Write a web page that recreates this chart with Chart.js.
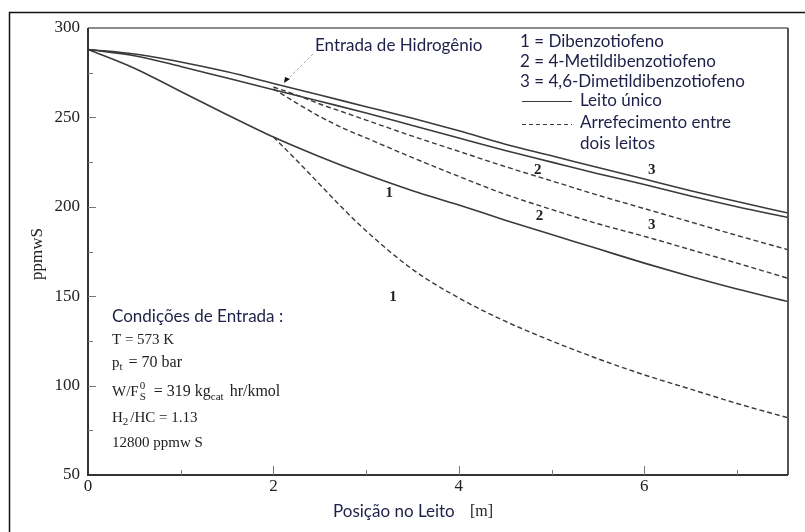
<!DOCTYPE html>
<html>
<head>
<meta charset="utf-8">
<script src="https://cdn.jsdelivr.net/npm/chart.js@4.4.1/dist/chart.umd.min.js"></script>
<style>
  html, body { margin: 0; padding: 0; background: #fff; }
  canvas { display: block; }
</style>
</head>
<body>
<canvas id="myChart" width="805" height="532"></canvas>
<script>
// posição no leito [m] e concentrações [ppmw S]
const posLeito = [0, 0.5, 1, 1.5, 2, 2.5, 3, 3.5, 4, 4.5, 5, 5.5, 6, 6.5, 7, 7.55];
const leitoUnico1 = [288, 277.5, 264.5, 251.5, 239, 228, 218, 209, 201, 192.5, 184.5, 176.5, 168.5, 161, 154, 147];
const leitoUnico2 = [288, 284.5, 278.5, 272, 265.5, 259, 252.5, 245.5, 238.5, 231.5, 225, 218.5, 212.5, 206, 200, 194];
const leitoUnico3 = [288, 285.5, 281, 275.5, 269, 262.5, 256, 249.5, 242.5, 235, 228.5, 222, 215.5, 209, 203, 196.5];

const posArref = [2, 2.25, 2.5, 2.75, 3, 3.5, 4, 4.5, 5, 5.5, 6, 6.5, 7, 7.55];
const arref1 = [239, 226, 212.5, 199, 186.5, 165, 149, 136, 125, 115, 106, 98, 90, 82];
const arref2 = [266, 258, 250.5, 244, 238.5, 227.5, 217, 207, 198.5, 190.5, 183.5, 176, 168.5, 160];
const arref3 = [267, 262.5, 257.5, 253, 248.5, 239.5, 231, 222.5, 214.5, 206.5, 199, 191.5, 184, 176];

const xTicks = [0, 2, 4, 6];
const xMinor = [1, 3, 5, 7];
const yTicks = [50, 100, 150, 200, 250, 300];
const yMinor = [75, 125, 175, 225, 275];

const lineColor = '#3a3a3a';
const sans = 'Lato, "Noto Sans", sans-serif';
const serif = '"Liberation Serif", "DejaVu Serif", serif';
const navy = '#1e2048';

function toPoints(xs, ys) {
    return xs.map((v, i) => ({ x: v, y: ys[i] }));
}

function solid(label, xs, ys) {
    return { label: label, data: toPoints(xs, ys), borderColor: lineColor, borderWidth: 1.6,
        pointRadius: 0, cubicInterpolationMode: 'monotone', fill: false };
}

function dashed(label, xs, ys) {
    let d = solid(label, xs, ys);
    d.borderDash = [5, 3];
    d.borderWidth = 1.4;
    return d;
}

// pedaços de texto um após o outro, alguns subidos ou descidos
function drawRich(ctx, parts, x, y) {
    parts.forEach((p) => {
        ctx.font = (p.size || 15) + 'px ' + serif;
        ctx.fillText(p.t, x, y + (p.dy || 0));
        if (!p.over) x += ctx.measureText(p.t).width + (p.gap || 0);
    });
}

const extras = {
    id: 'extras',
    afterDraw(chart) {
        const ctx = chart.ctx;
        const xs = chart.scales.x, ys = chart.scales.y;
        const a = chart.chartArea;
        ctx.save();

        // moldura externa
        ctx.strokeStyle = '#111';
        ctx.lineWidth = 1.5;
        ctx.beginPath();
        ctx.moveTo(9.5, 532); ctx.lineTo(9.5, 12.5); ctx.lineTo(805, 12.5);
        ctx.stroke();

        // caixa do gráfico
        ctx.strokeStyle = '#666';
        ctx.lineWidth = 1.5;
        ctx.beginPath(); ctx.moveTo(a.left, a.top); ctx.lineTo(a.right, a.top); ctx.stroke();
        ctx.strokeStyle = '#555';
        ctx.lineWidth = 2;
        ctx.beginPath(); ctx.moveTo(a.right, a.top); ctx.lineTo(a.right, a.bottom); ctx.stroke();
        ctx.strokeStyle = '#333';
        ctx.beginPath(); ctx.moveTo(a.left, a.top); ctx.lineTo(a.left, a.bottom); ctx.lineTo(a.right, a.bottom); ctx.stroke();

        // marcas para dentro
        ctx.strokeStyle = '#777';
        ctx.lineWidth = 1;
        xTicks.concat(xMinor).forEach((v) => {
            if (v === 0) return;
            const px = Math.round(xs.getPixelForValue(v)) + 0.5;
            const len = xTicks.includes(v) ? 9 : 5;
            ctx.beginPath(); ctx.moveTo(px, a.bottom); ctx.lineTo(px, a.bottom - len); ctx.stroke();
        });
        yTicks.concat(yMinor).forEach((v) => {
            if (v === 50 || v === 300) return;
            const py = Math.round(ys.getPixelForValue(v)) + 0.5;
            const len = yTicks.includes(v) ? 8 : 5;
            ctx.beginPath(); ctx.moveTo(a.left, py); ctx.lineTo(a.left + len, py); ctx.stroke();
        });

        // rótulos das curvas
        ctx.fillStyle = '#222';
        ctx.textBaseline = 'middle';
        ctx.textAlign = 'center';
        ctx.font = 'bold 15px ' + serif;
        [['1', 3.25, 207.5], ['1', 3.29, 149.5], ['2', 4.85, 220.5], ['3', 6.08, 220.5],
         ['2', 4.87, 195], ['3', 6.08, 190]].forEach((l) => {
            ctx.fillText(l[0], xs.getPixelForValue(l[1]), ys.getPixelForValue(l[2]));
        });

        // título do eixo y
        ctx.save();
        ctx.translate(38, 254);
        ctx.rotate(-Math.PI / 2);
        ctx.font = '17px ' + serif;
        ctx.fillText('ppmwS', 0, 0);
        ctx.restore();

        // título do eixo x
        ctx.textAlign = 'left';
        ctx.fillStyle = navy;
        ctx.font = '17px ' + sans;
        ctx.fillText('Posição no Leito', 333, 512);
        ctx.fillStyle = '#222';
        ctx.font = '16px ' + serif;
        ctx.fillText('[m]', 470, 512);

        // entrada de hidrogênio
        ctx.fillStyle = navy;
        ctx.font = '17px ' + sans;
        ctx.fillText('Entrada de Hidrogênio', 315, 46);
        ctx.strokeStyle = '#aaa';
        ctx.lineWidth = 1;
        ctx.setLineDash([3, 2]);
        ctx.beginPath(); ctx.moveTo(313, 54); ctx.lineTo(290, 77); ctx.stroke();
        ctx.setLineDash([]);
        ctx.fillStyle = '#111';
        ctx.beginPath(); ctx.moveTo(284, 83); ctx.lineTo(285, 77); ctx.lineTo(290, 79); ctx.closePath(); ctx.fill();

        // legenda
        ctx.fillStyle = navy;
        ctx.font = '17px ' + sans;
        ctx.fillText('1 = Dibenzotiofeno', 520, 42);
        ctx.fillText('2 = 4-Metildibenzotiofeno', 520, 62);
        ctx.fillText('3 = 4,6-Dimetildibenzotiofeno', 520, 82);
        ctx.fillText('Leito único', 580, 101);
        ctx.fillText('Arrefecimento entre', 580, 123);
        ctx.fillText('dois leitos', 580, 144);
        ctx.strokeStyle = lineColor;
        ctx.lineWidth = 1.2;
        ctx.beginPath(); ctx.moveTo(522, 101.5); ctx.lineTo(572, 101.5); ctx.stroke();
        ctx.setLineDash([4, 3]);
        ctx.beginPath(); ctx.moveTo(522, 124.5); ctx.lineTo(572, 124.5); ctx.stroke();
        ctx.setLineDash([]);

        // condições de entrada
        ctx.fillText('Condições de Entrada :', 112, 317);
        ctx.fillStyle = '#222';
        drawRich(ctx, [{ t: 'T = 573 K' }], 112, 340);
        drawRich(ctx, [{ t: 'p' }, { t: 't', size: 11, dy: 4, gap: 6 }, { t: '= 70 bar', size: 16 }], 112, 363);
        drawRich(ctx, [{ t: 'W/F', gap: 1 }, { t: '0', size: 11, dy: -6, over: true },
            { t: 'S', size: 11, dy: 5, gap: 8 }, { t: '= 319 kg', size: 16 },
            { t: 'cat', size: 11, dy: 5, gap: 6 }, { t: 'hr/kmol', size: 16 }], 112, 392);
        drawRich(ctx, [{ t: 'H' }, { t: '2', size: 11, dy: 4, gap: 2 }, { t: '/HC = 1.13' }], 112, 418);
        drawRich(ctx, [{ t: '12800 ppmw S' }], 112, 443);

        ctx.restore();
    }
};

const ctx = document.getElementById('myChart');

new Chart(ctx, {
    type: 'line',
    data: {
        datasets: [
            solid('Leito único 1', posLeito, leitoUnico1),
            solid('Leito único 2', posLeito, leitoUnico2),
            solid('Leito único 3', posLeito, leitoUnico3),
            dashed('Arrefecimento 1', posArref, arref1),
            dashed('Arrefecimento 2', posArref, arref2),
            dashed('Arrefecimento 3', posArref, arref3)
        ]
    },
    options: {
        responsive: false,
        animation: false,
        devicePixelRatio: 1,
        layout: { padding: { top: 28, right: 17, left: 0, bottom: 0 } },
        plugins: { legend: { display: false }, tooltip: { enabled: false } },
        scales: {
            x: {
                type: 'linear',
                min: 0,
                max: 7.55,
                afterFit: (s) => { s.height = 57; },
                afterBuildTicks: (s) => { s.ticks = xTicks.map((v) => ({ value: v })); },
                grid: { display: false, drawTicks: false },
                border: { display: false },
                ticks: { color: '#222', padding: 1, font: { family: serif, size: 17 } }
            },
            y: {
                type: 'linear',
                min: 50,
                max: 300,
                afterFit: (s) => { s.width = 88; },
                afterBuildTicks: (s) => { s.ticks = yTicks.map((v) => ({ value: v })); },
                grid: { display: false, drawTicks: false },
                border: { display: false },
                ticks: { color: '#222', padding: 8, font: { family: serif, size: 17 } }
            }
        }
    },
    plugins: [extras]
});
</script>
</body>
</html>
